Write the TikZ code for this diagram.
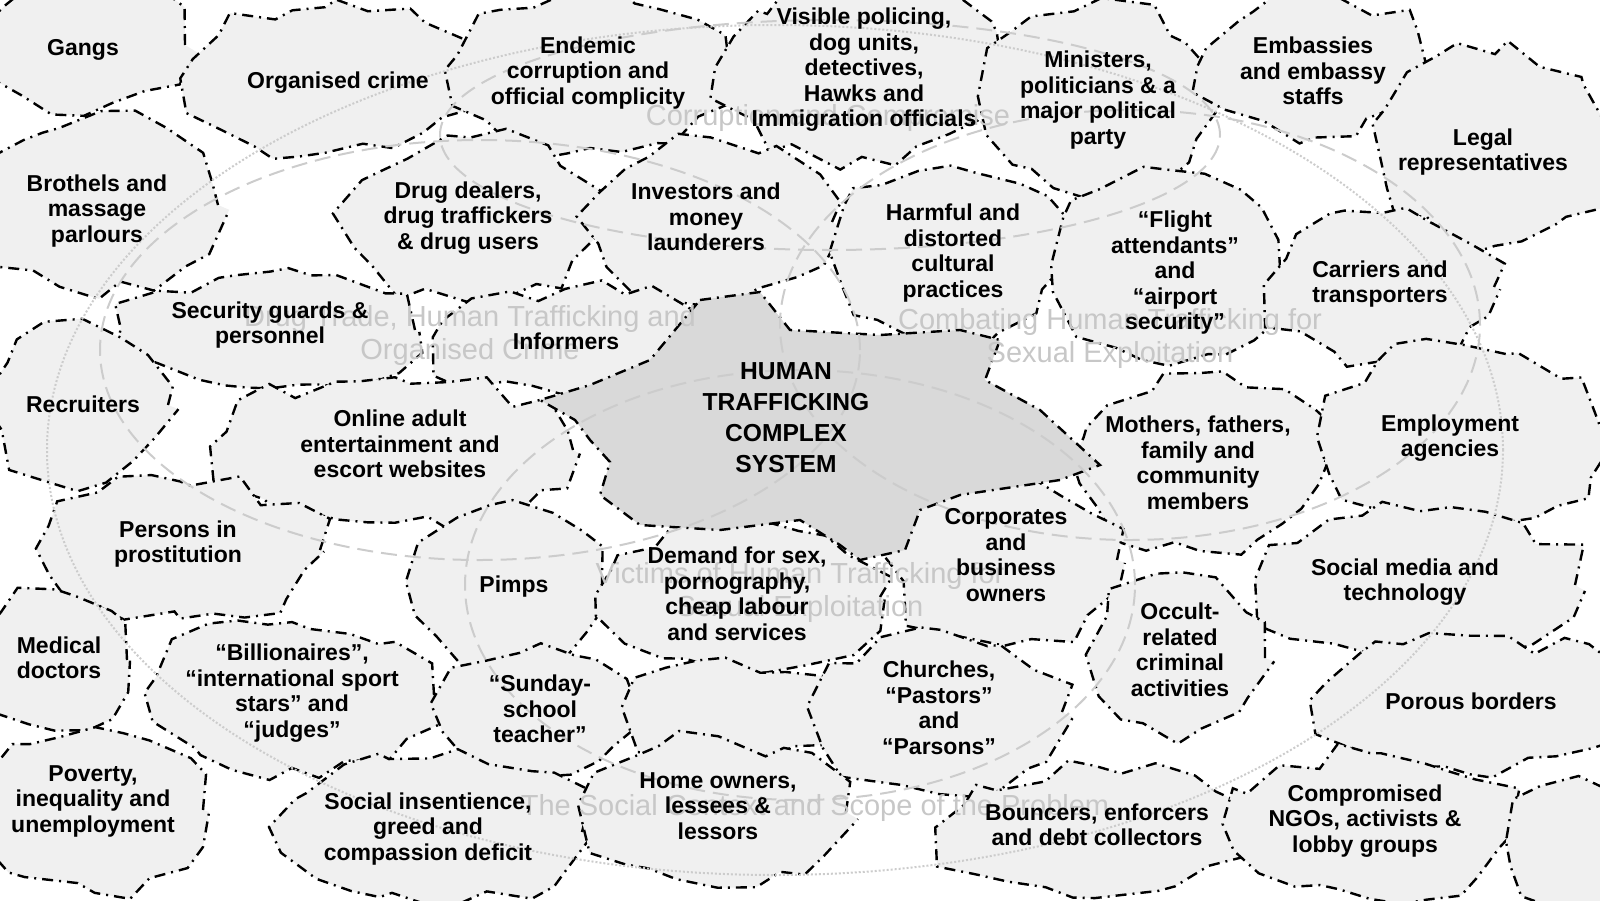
\documentclass[tikz,border=0pt]{standalone}
\usepackage{fontspec}
\setmainfont{Liberation Sans}
\usetikzlibrary{decorations.pathmorphing}

\begin{document}
\begin{tikzpicture}[x=1pt,y=-1pt,
	patch/.style={fill=gray!12, draw=black, line width=2.4pt, dash pattern=on 11pt off 6pt on 2pt off 6pt, decorate, decoration={random steps, segment length=30pt, amplitude=12pt}},
	hub/.style={fill=gray!30, draw=black, line width=2.4pt, dash pattern=on 11pt off 6pt on 2pt off 6pt},
	ring/.style={draw=black!20, line width=2pt, dash pattern=on 16pt off 8pt},
	rim/.style={draw=black!20, line width=2pt, dotted},
	theme/.style={text=black!22, font=\fontsize{29}{33}\selectfont, align=center, inner sep=0pt},
	lbl/.style={font=\bfseries\fontsize{23}{25.5}\selectfont, align=center, inner sep=0pt}]
		\useasboundingbox (0,0) rectangle (1600,900);
		\clip (0,0) rectangle (1600,900);
		\pgfmathsetseed{11}

		\filldraw[patch] (85,45) ellipse (100pt and 65pt);
		\filldraw[patch] (325,80) ellipse (140pt and 72pt);
		\filldraw[patch] (590,72) ellipse (140pt and 75pt);
		\filldraw[patch] (862,70) ellipse (140pt and 85pt);
		\filldraw[patch] (1100,100) ellipse (112pt and 95pt);
		\filldraw[patch] (1315,68) ellipse (112pt and 68pt);
		\filldraw[patch] (1495,150) ellipse (115pt and 95pt);
		\filldraw[patch] (100,205) ellipse (118pt and 88pt);
		\filldraw[patch] (470,220) ellipse (125pt and 78pt);
		\filldraw[patch] (710,222) ellipse (122pt and 80pt);
		\filldraw[patch] (950,255) ellipse (112pt and 85pt);
		\filldraw[patch] (1170,268) ellipse (110pt and 92pt);
		\filldraw[patch] (1382,287) ellipse (112pt and 72pt);
		\filldraw[patch] (270,330) ellipse (145pt and 58pt);
		\filldraw[patch] (565,342) ellipse (125pt and 52pt);
		\filldraw[patch] (80,405) ellipse (88pt and 78pt);
		\filldraw[patch] (395,450) ellipse (178pt and 72pt);
		\filldraw[patch] (1200,462) ellipse (125pt and 88pt);
		\filldraw[patch] (1465,440) ellipse (140pt and 92pt);
		\filldraw[patch] (180,550) ellipse (140pt and 68pt);
		\filldraw[patch] (510,587) ellipse (92pt and 78pt);
		\filldraw[patch] (740,597) ellipse (140pt and 72pt);
		\filldraw[patch] (1005,560) ellipse (112pt and 82pt);
		\filldraw[patch] (1420,585) ellipse (155pt and 72pt);
		\filldraw[patch] (1180,658) ellipse (85pt and 78pt);
		\filldraw[patch] (55,660) ellipse (72pt and 68pt);
		\filldraw[patch] (292,695) ellipse (142pt and 72pt);
		\filldraw[patch] (540,710) ellipse (98pt and 62pt);
		\filldraw[patch] (725,712) ellipse (95pt and 52pt);
		\filldraw[patch] (940,712) ellipse (122pt and 78pt);
		\filldraw[patch] (1470,705) ellipse (152pt and 68pt);
		\filldraw[patch] (95,810) ellipse (108pt and 80pt);
		\filldraw[patch] (430,832) ellipse (152pt and 72pt);
		\filldraw[patch] (718,812) ellipse (128pt and 72pt);
		\filldraw[patch] (1095,832) ellipse (152pt and 65pt);
		\filldraw[patch] (1370,826) ellipse (142pt and 72pt);
		\filldraw[patch] (1575,845) ellipse (60pt and 60pt);

		\filldraw[hub] (700,300) -- (760,292) -- (790,330) -- (880,335) -- (960,330) -- (1000,340) -- (985,380) -- (1040,410) -- (1100,465) -- (1060,480) -- (960,495) -- (920,510) -- (905,550) -- (860,560) -- (840,545) -- (800,520) -- (720,530) -- (640,525) -- (600,495) -- (610,462) -- (590,440) -- (575,420) -- (540,400) -- (590,385) -- (650,360) -- cycle;

		\draw[rim] (775,450) ellipse (728pt and 425pt);
		\draw[ring] (830,135) ellipse (390pt and 115pt);
		\draw[ring] (480,350) ellipse (380pt and 210pt);
		\draw[ring] (1130,325) ellipse (350pt and 215pt);
		\draw[ring] (800,585) ellipse (335pt and 215pt);

		\node[theme] (fcorrupt) at (828,118) {Corruption and Compromise};
		\node[theme] (fdrugs) at (470,335) {Drug Trade, Human Trafficking and\\Organised Crime};
		\node[theme] (fcombat) at (1110,338) {Combating Human Trafficking for\\Sexual Exploitation};
		\node[theme] (fvictims) at (800,592) {Victims of Human Trafficking for\\Sexual Exploitation};
		\node[theme] (fsocial) at (815,808) {The Social Context and Scope of the Problem};

		\node[lbl] (gangs) at (83,50) {Gangs};
		\node[lbl] (orgcrime) at (338,83) {Organised crime};
		\node[lbl] (corruption) at (588,73) {Endemic\\corruption and\\official complicity};
		\node[lbl] (policing) at (864,70) {Visible policing,\\dog units,\\detectives,\\Hawks and\\Immigration officials};
		\node[lbl] (ministers) at (1098,100) {Ministers,\\politicians \& a\\major political\\party};
		\node[lbl] (embassies) at (1313,71) {Embassies\\and embassy\\staffs};
		\node[lbl] (legal) at (1483,152) {Legal\\representatives};
		\node[lbl] (brothels) at (97,211) {Brothels and\\massage\\parlours};
		\node[lbl] (drugs) at (468,218) {Drug dealers,\\drug traffickers\\\& drug users};
		\node[lbl] (investors) at (706,217) {Investors and\\money\\launderers};
		\node[lbl] (culture) at (953,253) {Harmful and\\distorted\\cultural\\practices};
		\node[lbl] (flight) at (1175,273) {“Flight\\attendants”\\and\\“airport\\security”};
		\node[lbl] (carriers) at (1380,284) {Carriers and\\transporters};
		\node[lbl] (guards) at (270,325) {Security guards \&\\personnel};
		\node[lbl] (informers) at (566,341) {Informers};
		\node[lbl, font=\bfseries\fontsize{24.6}{31}\selectfont] (hts) at (786,418) {HUMAN\\TRAFFICKING\\COMPLEX\\SYSTEM};
		\node[lbl] (recruiters) at (83,404) {Recruiters};
		\node[lbl] (online) at (400,444) {Online adult\\entertainment and\\escort websites};
		\node[lbl] (family) at (1198,463) {Mothers, fathers,\\family and\\community\\members};
		\node[lbl] (employment) at (1450,438) {Employment\\agencies};
		\node[lbl] (prostitution) at (178,544) {Persons in\\prostitution};
		\node[lbl] (pimps) at (514,587) {Pimps};
		\node[lbl] (demand) at (737,594) {Demand for sex,\\pornography,\\cheap labour\\and services};
		\node[lbl] (corporates) at (1006,555) {Corporates\\and\\business\\owners};
		\node[lbl] (social) at (1405,582) {Social media and\\technology};
		\node[lbl] (occult) at (1180,650) {Occult-\\related\\criminal\\activities};
		\node[lbl] (doctors) at (59,658) {Medical\\doctors};
		\node[lbl] (celebs) at (292,693) {“Billionaires”,\\“international sport\\stars” and\\“judges”};
		\node[lbl] (teacher) at (540,709) {“Sunday-\\school\\teacher”};
		\node[lbl] (churches) at (939,708) {Churches,\\“Pastors”\\and\\“Parsons”};
		\node[lbl] (borders) at (1471,701) {Porous borders};
		\node[lbl] (poverty) at (93,801) {Poverty,\\inequality and\\unemployment};
		\node[lbl] (greed) at (428,829) {Social insentience,\\greed and\\compassion deficit};
		\node[lbl] (owners) at (718,806) {Home owners,\\lessees \&\\lessors};
		\node[lbl] (bouncers) at (1097,825) {Bouncers, enforcers\\and debt collectors};
		\node[lbl] (ngos) at (1365,821) {Compromised\\NGOs, activists \&\\lobby groups};
\end{tikzpicture}
\end{document}
